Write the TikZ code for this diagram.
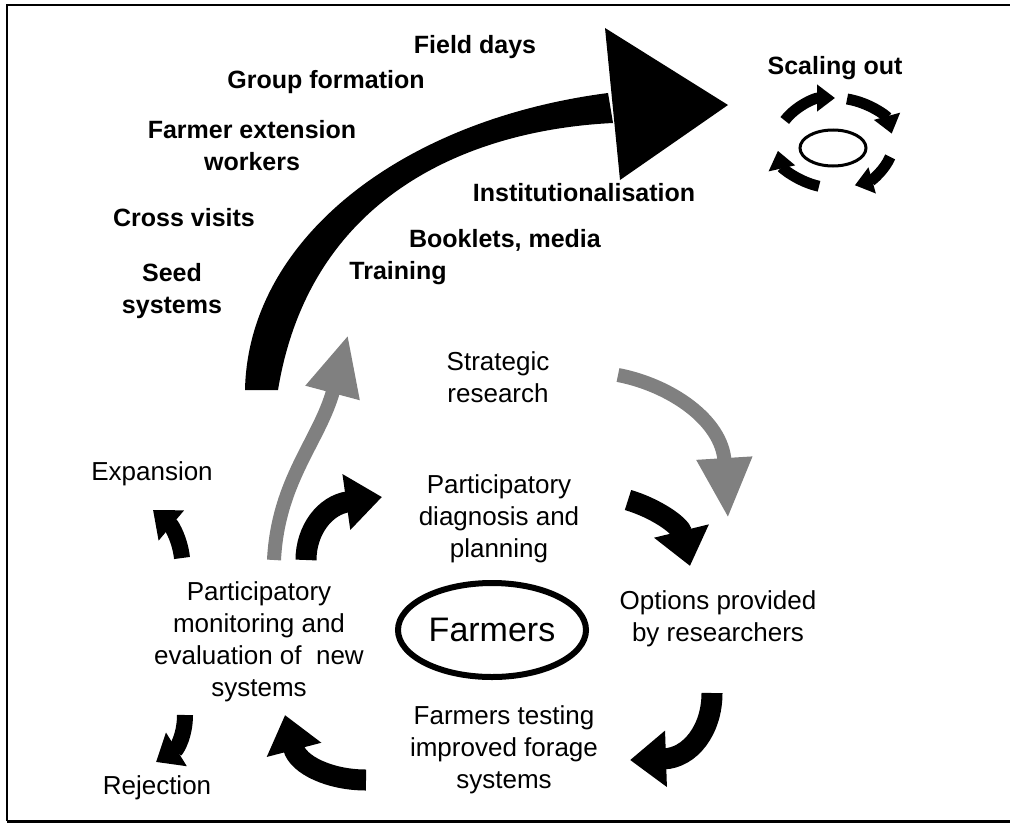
\documentclass[tikz,border=0pt]{standalone}
\usepackage{fontspec}
\setmainfont{Liberation Sans}
\usetikzlibrary{arrows.meta}
\usetikzlibrary{shapes.geometric}

\begin{document}
\begin{tikzpicture}[x=0.5pt,y=-0.5pt,
  toptext/.style={font=\bfseries\fontsize{12.5}{16}\selectfont, align=center},
  cycletext/.style={font=\fontsize{13}{16}\selectfont, align=center},
  cyclearrow/.style={line width=10.5pt, -{Triangle[width=27pt,length=18pt]}},
  sidearrow/.style={line width=8pt, -{Triangle[width=19pt,length=12pt]}},
  greyarrow/.style={draw=black!50, line width=7pt, -{Triangle[width=26pt,length=30pt]}},
  spinarrow/.style={line width=5.5pt, -{Triangle[width=13pt,length=9pt]}}]

  \useasboundingbox (0,0) rectangle (1010,829);

  \draw[line width=1pt] (1010,5) -- (7,5) -- (7,821);
  \draw[line width=1.5pt] (7,821) -- (1010,821);

  \fill (245,390) .. controls (248,240) and (400,120) .. (608,93) -- (613,123)
    .. controls (470,130) and (310,195) .. (278,390) -- cycle;
  \fill (605,28) -- (728,105) -- (620,180) -- cycle;

  \node[toptext] (field) at (475,47) {Field days};
  \node[toptext] (group) at (326,82) {Group formation};
  \node[toptext] (extension) at (252,146) {Farmer extension\\workers};
  \node[toptext] (cross) at (184,218) {Cross visits};
  \node[toptext] (seed) at (172,291) {Seed\\systems};
  \node[toptext] (inst) at (584,193) {Institutionalisation};
  \node[toptext] (booklets) at (505,240) {Booklets, media};
  \node[toptext] (training) at (398,273) {Training};
  \node[toptext] (scaling) at (835,68) {Scaling out};

  \coordinate (sc) at (835,143);
  \draw[line width=1.5pt] (833,148) ellipse [x radius=33, y radius=18];
  \draw[spinarrow] (sc) ++(-150:58 and 45) arc[start angle=-150, end angle=-90, x radius=58, y radius=45];
  \draw[spinarrow] (sc) ++(-78:58 and 45) arc[start angle=-78, end angle=-12, x radius=58, y radius=45];
  \draw[spinarrow] (sc) ++(18:58 and 45) arc[start angle=18, end angle=70, x radius=58, y radius=45];
  \draw[spinarrow] (sc) ++(106:58 and 45) arc[start angle=106, end angle=170, x radius=58, y radius=45];

  \node[cycletext] (strategic) at (498,377) {Strategic\\research};
  \draw[greyarrow] (274,560) .. controls (278,480) and (320,440) .. (348,335);
  \draw[greyarrow] (618,375) .. controls (670,385) and (722,420) .. (728,518);

  \node[cycletext] (diagnosis) at (499,519) {Participatory\\diagnosis and\\planning};
  \node[cycletext] (options) at (718,619) {Options provided\\by researchers};
  \node[cycletext] (testing) at (504,750) {Farmers testing\\improved forage\\systems};
  \node[cycletext] (monitoring) at (259,642) {Participatory\\monitoring and\\evaluation of\ \ new\\systems};
  \node[draw, ellipse, line width=3pt, minimum width=94pt, minimum height=47pt, inner sep=0pt,
    font=\fontsize{17}{20}\selectfont] (farmers) at (492,630) {Farmers};
  \node[cycletext] (expansion) at (152,474) {Expansion};
  \node[cycletext] (rejection) at (157,788) {Rejection};

  \draw[cyclearrow] (306,560) .. controls (306,530) and (325,505) .. (382,497);
  \draw[cyclearrow] (628,500) .. controls (655,508) and (680,525) .. (690,566);
  \draw[cyclearrow] (712,693) .. controls (712,730) and (690,758) .. (630,760);
  \draw[cyclearrow] (366,780) .. controls (330,780) and (298,765) .. (285,715);
  \draw[sidearrow] (182,558) .. controls (180,540) and (172,526) .. (153,510);
  \draw[sidearrow] (185,715) .. controls (185,735) and (177,749) .. (156,762);

\end{tikzpicture}
\end{document}
